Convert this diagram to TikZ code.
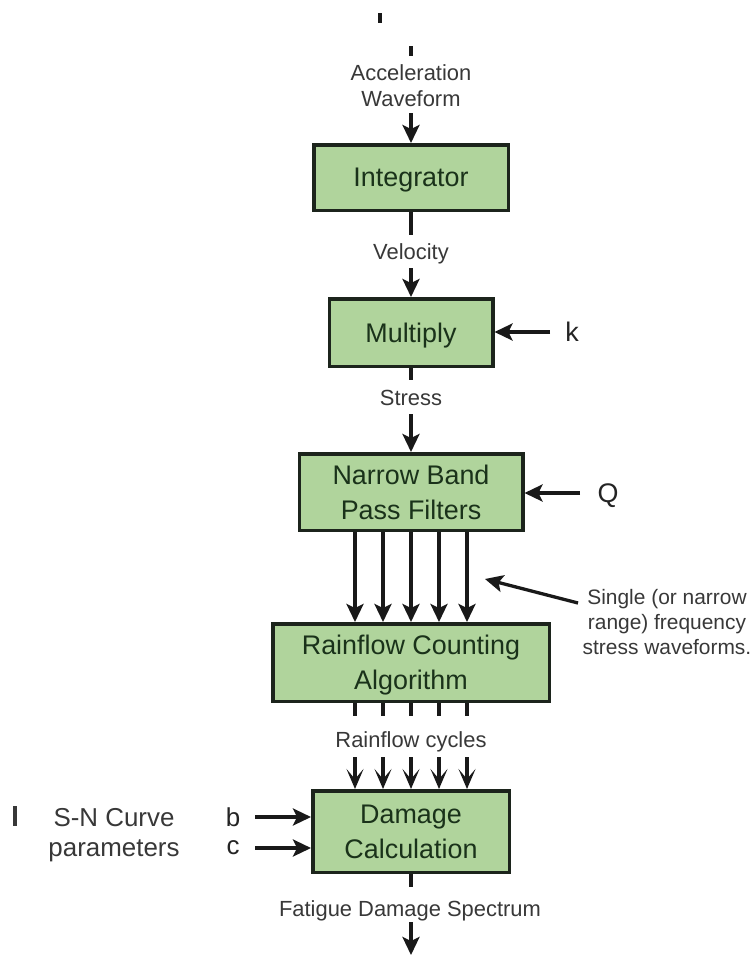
\documentclass[tikz,border=0pt]{standalone}
\usepackage{fontspec}
\setmainfont{Liberation Sans}
\usetikzlibrary{arrows.meta}
\definecolor{boxfill}{RGB}{176,212,156}
\definecolor{boxline}{RGB}{28,36,28}
\definecolor{boxtext}{RGB}{26,50,26}
\definecolor{labeltext}{RGB}{56,56,56}
\definecolor{symtext}{RGB}{36,36,36}

\begin{document}
\begin{tikzpicture}[x=1bp,y=-1bp,
  block/.style={draw=boxline, line width=3.5bp, fill=boxfill, text=boxtext,
    font=\fontsize{27}{35}\selectfont, align=center, inner sep=0pt, text depth=0pt},
  lbl/.style={text=labeltext, font=\fontsize{22}{26}\selectfont, inner sep=0pt, text depth=0pt},
  note/.style={text=labeltext, font=\fontsize{21}{25}\selectfont, inner sep=0pt, text depth=0pt},
  big/.style={text=labeltext, font=\fontsize{26}{31}\selectfont, inner sep=0pt, text depth=0pt},
  sym/.style={text=symtext, font=\fontsize{27}{31}\selectfont, inner sep=0pt, text depth=0pt},
  wire/.style={line width=3.3bp, draw=black!90},
  arr/.style={wire, -{Stealth[length=18bp,width=17bp,inset=4bp]}},
  barb/.style={wire, -{Stealth[length=20bp,width=17bp,inset=10bp]}},
]
\fill[white] (0,0) rectangle (755,956);
\useasboundingbox (0,0) rectangle (755,956);

% fragments of strokes along the edges
\draw[wire, line width=4bp] (380,13) -- (380,23);
\draw[wire, line width=4bp] (411,46) -- (411,56);
\draw[line width=3.5bp, draw=labeltext] (15,806) -- (15,826);

% processing blocks
\node[block, minimum width=194.5bp, minimum height=65.5bp] (int) at (411,177.5) {Integrator};
\node[block, minimum width=163.5bp, minimum height=67.5bp] (mul) at (411,332.5) {Multiply};
\node[block, minimum width=223.5bp, minimum height=76.5bp] (nbp) at (411,492) {Narrow Band\\Pass Filters};
\node[block, minimum width=276.5bp, minimum height=77.5bp] (rfc) at (411,662.5) {Rainflow Counting\\Algorithm};
\node[block, minimum width=196.5bp, minimum height=81.5bp] (dmg) at (411,831.5) {Damage\\Calculation};

% signal labels
\node[lbl, align=center] (acc) at (411,86) {Acceleration\\Waveform};
\node[lbl] (vel) at (411,252) {Velocity};
\node[lbl] (str) at (411,398) {Stress};
\node[lbl] (cyc) at (411,740) {Rainflow cycles};
\node[lbl] (fds) at (410,909) {Fatigue Damage Spectrum};

% parameters
\node[sym] (k) at (572,332) {k};
\node[sym] (q) at (608,493) {Q};
\node[sym, font=\fontsize{26}{31}\selectfont] (b) at (233,817) {b};
\node[sym, font=\fontsize{26}{31}\selectfont] (c) at (233,848) {c};
\node[big, align=center] (sn) at (114,832.5) {S-N Curve\\parameters};
\node[note, align=center] (ann) at (667,622) {Single (or narrow\\range) frequency\\stress waveforms.};

% free ends of connectors
\coordinate (accEnd) at (411,113);
\coordinate (velTop) at (411,235);
\coordinate (velBot) at (411,268);
\coordinate (strTop) at (411,380);
\coordinate (strBot) at (411,414);
\coordinate (kIn) at (550,332);
\coordinate (qIn) at (580,493);
\coordinate (bIn) at (255,817);
\coordinate (cIn) at (255,848);
\coordinate (annTail) at (578,603);
\coordinate (annHead) at (485,579);
\coordinate (fdsTop) at (411,887);
\coordinate (fdsBot) at (411,922);
\coordinate (outEnd) at (411,955);

% main signal path
\draw[arr] (accEnd) -- (int.north);
\draw[wire] (int.south) -- (velTop);
\draw[arr] (velBot) -- (mul.north);
\draw[wire] (mul.south) -- (strTop);
\draw[arr] (strBot) -- (nbp.north);

% parameter inputs
\draw[arr] (kIn) -- (kIn -| mul.east);
\draw[arr] (qIn) -- (qIn -| nbp.east);
\draw[arr] (bIn) -- (bIn -| dmg.west);
\draw[arr] (cIn) -- (cIn -| dmg.west);

% filter bank outputs and rainflow cycles
\foreach \dx in {-56,-28,0,28,56} {
  \draw[arr] ([xshift=\dx bp]nbp.south) -- ([xshift=\dx bp]rfc.north);
  \draw[wire] ([xshift=\dx bp]rfc.south) -- ++(0,13);
  \draw[barb] ([xshift=\dx bp, yshift=32bp]dmg.north) -- ([xshift=\dx bp]dmg.north);
}

% annotation pointer
\draw[arr] (annTail) -- (annHead);

% output
\draw[wire] (dmg.south) -- (fdsTop);
\draw[arr] (fdsBot) -- (outEnd);
\end{tikzpicture}
\end{document}
